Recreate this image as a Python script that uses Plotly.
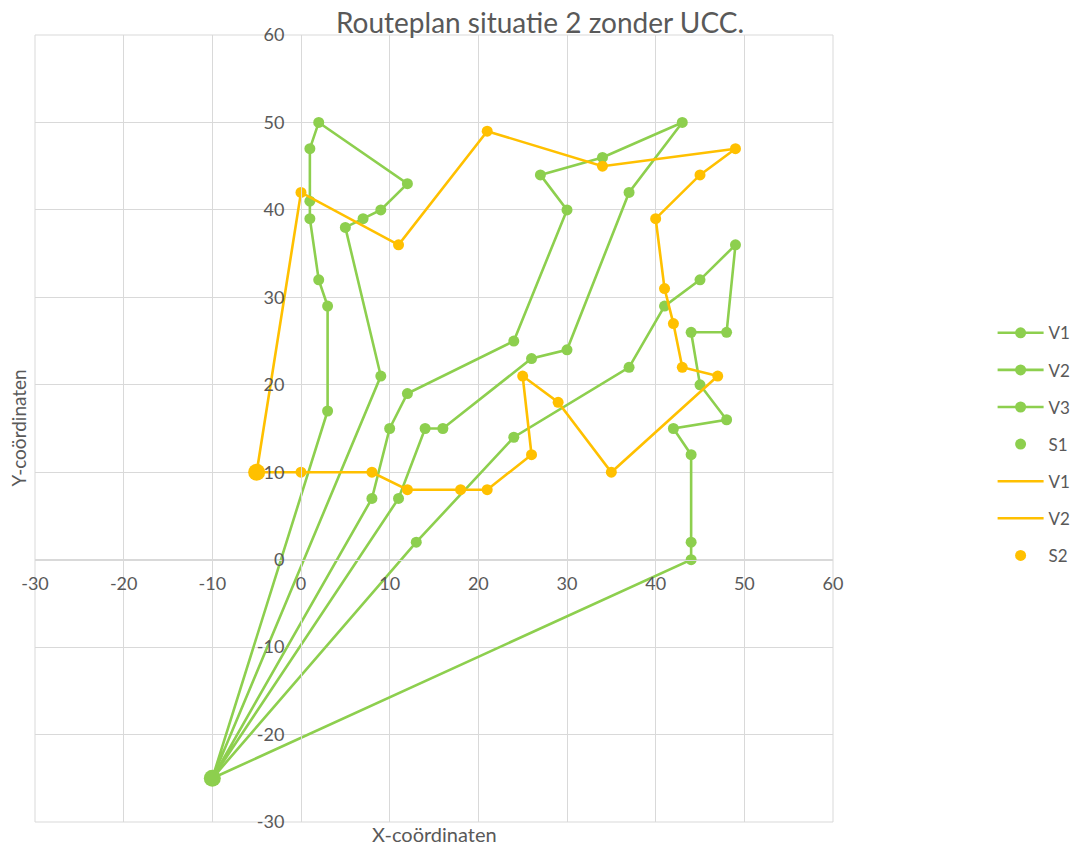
import plotly.graph_objects as go

# Route data: coordinates of the stops, in visiting order
green_depot = (-10, -25)
orange_depot = (-5, 10)

green_v1_x = [-10, 3, 3, 2, 1, 1, 1, 2, 12, 9, 7, 5, 9, -10]
green_v1_y = [-25, 17, 29, 32, 39, 41, 47, 50, 43, 40, 39, 38, 21, -25]

green_v2_x = [-10, 8, 10, 12, 24, 30, 27, 34, 43, 37, 30, 26, 16, 14, 11, -10]
green_v2_y = [-25, 7, 15, 19, 25, 40, 44, 46, 50, 42, 24, 23, 15, 15, 7, -25]

green_v3_x = [-10, 13, 24, 37, 41, 45, 49, 48, 44, 45, 48, 42, 44, 44, 44, -10]
green_v3_y = [-25, 2, 14, 22, 29, 32, 36, 26, 26, 20, 16, 15, 12, 2, 0, -25]

orange_v1_x = [-5, 0, 11, 21, 34, 49, 45, 40, 41, 42, 43, 47]
orange_v1_y = [10, 42, 36, 49, 45, 47, 44, 39, 31, 27, 22, 21]

orange_v2_x = [-5, 0, 8, 12, 18, 21, 26, 25, 29, 35, 47]
orange_v2_y = [10, 10, 10, 8, 8, 8, 12, 21, 18, 10, 21]

tick_values = [-30, -20, -10, 0, 10, 20, 30, 40, 50, 60]
tick_labels = [str(v) for v in tick_values]

GREEN = "#8DCF4E"
ORANGE = "#FFC000"
TEXT = "#595959"
GRID = "#D9D9D9"
FONT = "Lato"

fig = go.Figure()


def dot(color, size):
    return dict(color=color, size=size, opacity=1, line=dict(width=0))


line_style = dict(width=2.6)
for name, xs, ys in [("V1", green_v1_x, green_v1_y),
                     ("V2", green_v2_x, green_v2_y),
                     ("V3", green_v3_x, green_v3_y)]:
    fig.add_trace(go.Scatter(
        x=xs, y=ys, name=name, mode="lines+markers",
        line=dict(color=GREEN, **line_style), marker=dot(GREEN, 11),
        legendgroup="g" + name,
    ))

fig.add_trace(go.Scatter(
    x=[green_depot[0]], y=[green_depot[1]], name="S1", mode="markers",
    marker=dot(GREEN, 11), legendgroup="gS1",
))
# Larger dot marking the depot itself
fig.add_trace(go.Scatter(
    x=[green_depot[0]], y=[green_depot[1]], mode="markers",
    marker=dot(GREEN, 17), legendgroup="gS1", showlegend=False,
))

for name, xs, ys in [("V1", orange_v1_x, orange_v1_y),
                     ("V2", orange_v2_x, orange_v2_y)]:
    fig.add_trace(go.Scatter(
        x=xs, y=ys, name=name, mode="lines",
        line=dict(color=ORANGE, **line_style),
        legendgroup="o" + name,
    ))

# Stops of the orange routes
stops = {}
for xs, ys in [(orange_v1_x, orange_v1_y), (orange_v2_x, orange_v2_y)]:
    for px, py in zip(xs, ys):
        stops[(px, py)] = True
s2_x = [p[0] for p in stops]
s2_y = [p[1] for p in stops]
fig.add_trace(go.Scatter(
    x=s2_x, y=s2_y, name="S2", mode="markers",
    marker=dot(ORANGE, 11), legendgroup="oS2",
))
fig.add_trace(go.Scatter(
    x=[orange_depot[0]], y=[orange_depot[1]], mode="markers",
    marker=dot(ORANGE, 17), legendgroup="oS2", showlegend=False,
))

axis_common = dict(
    range=[-30, 60], tickvals=tick_values, ticktext=tick_labels,
    showgrid=True, gridcolor=GRID, gridwidth=1, zeroline=False,
    showline=True, linecolor=GRID, linewidth=1,
    ticks="outside", tickcolor="rgba(0,0,0,0)",
    tickfont=dict(family=FONT, size=18, color=TEXT),
    anchor="free", position=1 / 3,
)

fig.update_layout(
    width=1075, height=848,
    margin=dict(l=35, r=242, t=35, b=26, autoexpand=False),
    paper_bgcolor="white", plot_bgcolor="white",
    title=dict(text="Routeplan situatie 2 zonder UCC.", x=540 / 1075,
               xanchor="center", y=1 - 23 / 848, yanchor="middle",
               font=dict(family=FONT, size=28, color=TEXT)),
    xaxis=dict(**axis_common, ticklen=8),
    yaxis=dict(**axis_common, ticklen=13),
    legend=dict(x=1.2, xanchor="left", y=0.48, yanchor="middle",
                font=dict(family=FONT, size=17, color=TEXT),
                tracegroupgap=12, itemwidth=46, traceorder="grouped",
                bgcolor="rgba(0,0,0,0)"),
    showlegend=True,
    shapes=[dict(type="rect", xref="paper", yref="paper", x0=0, y0=0,
                 x1=1, y1=1, line=dict(color=GRID, width=1), layer="below")],
    annotations=[
        dict(text="X-coördinaten", x=0.5, y=-12 / 787, xref="paper",
             yref="paper", xanchor="center", yanchor="middle",
             showarrow=False, font=dict(family=FONT, size=20, color=TEXT)),
        dict(text="Y-coördinaten", x=-17 / 798, y=0.5, xref="paper",
             yref="paper", xanchor="center", yanchor="middle", textangle=-90,
             showarrow=False, font=dict(family=FONT, size=19, color=TEXT)),
    ],
)

fig.write_html("out.html")
